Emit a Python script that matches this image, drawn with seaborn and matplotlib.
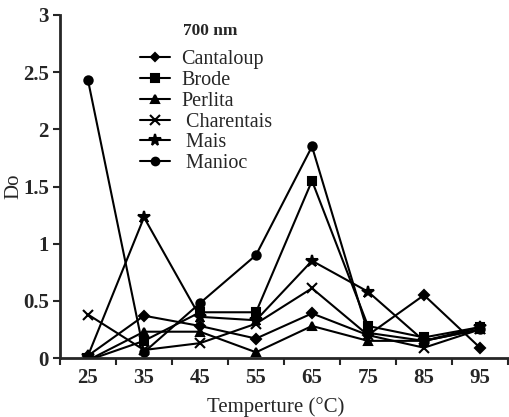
import numpy as np
import pandas as pd
import matplotlib
matplotlib.use("Agg")
import matplotlib.pyplot as plt
import seaborn as sns
from matplotlib.ticker import FixedLocator
from matplotlib.lines import Line2D

temps = [25, 35, 45, 55, 65, 75, 85, 95]
cantaloup = [0.02, 0.37, 0.28, 0.17, 0.39, 0.20, 0.55, 0.09]
brode = [-0.02, 0.15, 0.40, 0.40, 1.55, 0.28, 0.18, 0.27]
perlita = [-0.02, 0.23, 0.23, 0.05, 0.28, 0.15, 0.15, 0.25]
charentais = [0.38, 0.07, 0.13, 0.30, 0.61, 0.20, 0.09, 0.25]
mais = [0.02, 1.23, 0.36, 0.33, 0.85, 0.58, 0.15, 0.27]
manioc = [2.43, 0.05, 0.48, 0.90, 1.85, 0.22, 0.15, 0.25]

names = ["Cantaloup", "Brode", "Perlita", "Charentais", "Mais", "Manioc"]
labels = ["Cantaloup", "Brode", "Perlita", " Charentais", " Mais", " Manioc"]
series = [cantaloup, brode, perlita, charentais, mais, manioc]
xtick_labels = ["25", "35", "45", "55", "65", "75", "85", "95"]
ytick_vals = [0, 0.5, 1, 1.5, 2, 2.5, 3]
ytick_labels = ["0", "0.5", "1", "1.5", "2", "2.5", "3"]

df = pd.DataFrame({
    "T": np.tile(temps, len(names)),
    "Do": np.concatenate(series),
    "Series": np.repeat(names, len(temps)),
})

sns.set_style("ticks")
plt.rcParams["font.family"] = ["Liberation Serif", "DejaVu Serif"]

fig = plt.figure(figsize=(5.10, 4.17), dpi=100)
ax = fig.add_axes([60/510, 1 - 358/417, 448/510, 343/417])

markers = {"Cantaloup": "D", "Brode": "s", "Perlita": "^",
           "Charentais": "x", "Mais": "*", "Manioc": "o"}
sizes = {"Cantaloup": 5, "Brode": 6, "Perlita": 6, "Charentais": 7, "Mais": 9, "Manioc": 6}

for n in names:
    sns.lineplot(data=df[df.Series == n], x="T", y="Do", ax=ax, color="black",
                 marker=markers[n], markersize=sizes[n], markeredgewidth=1.5,
                 markeredgecolor="black", linewidth=1.5, legend=False)

ax.set_xlim(20, 100)
ax.set_ylim(0, 3)
ax.xaxis.set_major_locator(FixedLocator([20, 30, 40, 50, 60, 70, 80, 90, 100]))
ax.set_xticklabels([])
ax.xaxis.set_minor_locator(FixedLocator(temps))
ax.set_xticklabels(xtick_labels, minor=True, fontweight="bold", fontsize=15)
ax.tick_params(axis="x", which="minor", length=0, pad=7)
ax.tick_params(axis="x", which="major", length=5, width=1.5, direction="out")
ax.set_yticks(ytick_vals)
ax.set_yticklabels(ytick_labels, fontweight="bold", fontsize=15)
ax.tick_params(axis="y", length=5, width=1.5, pad=3)

sns.despine(ax=ax)
for s in ["left", "bottom"]:
    ax.spines[s].set_linewidth(2)

ax.set_xlabel("Temperture (\u00b0C)", fontsize=15)
ax.xaxis.set_label_coords(0.482, -0.115)
ax.set_ylabel("Do", fontsize=15, labelpad=0)

handles = [Line2D([], [], color="black", marker=markers[n], markersize=sizes[n] - 0.5,
                  markeredgewidth=1.5, linewidth=1.5) for n in names]
leg = ax.legend(handles, labels, loc="upper left", bbox_to_anchor=(0.179, 0.897),
                frameon=False, fontsize=14.5, handlelength=1.5, handletextpad=0.55,
                labelspacing=0.08, borderpad=0, borderaxespad=0)
ax.text(0.274, 0.952, "700 nm", transform=ax.transAxes, fontsize=12.5,
        fontweight="bold", va="center", ha="left")

fig.savefig("out.png", dpi=100)
